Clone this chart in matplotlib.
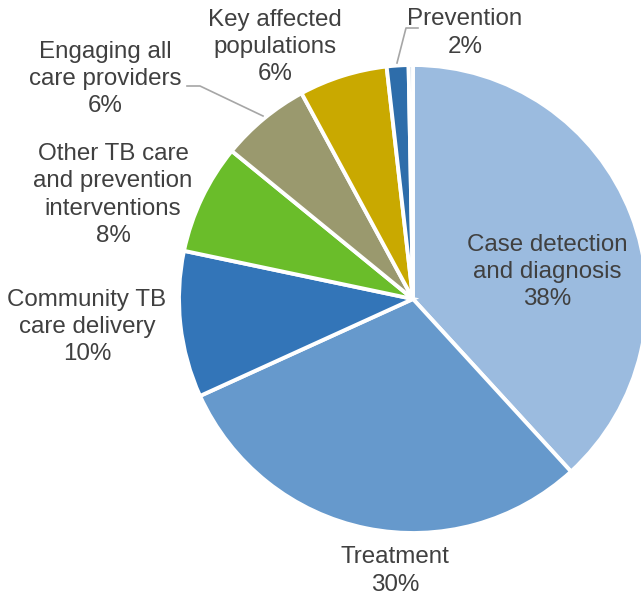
import matplotlib
matplotlib.use("Agg")
import matplotlib.pyplot as plt

categories = ["Case detection\nand diagnosis", "Treatment", "Community TB\ncare delivery",
              "Other TB care\nand prevention\ninterventions", "Engaging all\ncare providers",
              "Key affected\npopulations", "Prevention", ""]
values = [38.2, 30.0, 10.1, 7.6, 6.2, 6.1, 1.5, 0.3]
pct_labels = ["38%", "30%", "10%", "8%", "6%", "6%", "2%", ""]
colors = ["#9BBBDF", "#6699CC", "#3375B8", "#6ABD2A", "#9A996E", "#C9A900", "#2E6DAA", "#B9CCE0"]

# layout: label centres in pixel coordinates (y measured from top)
label_pos = [(547, 272), (395, 571), (87, 327), (113, 195), (105, 79), (275, 47), (465, 33), None]

W, H = 641, 599
fig = plt.figure(figsize=(W / 100, H / 100), dpi=100)
ax = fig.add_axes([0, 0, 1, 1])

cx, cy, r = 413, H - 299, 234
ax.pie(values, colors=colors, startangle=90, counterclock=False,
       center=(cx, cy), radius=r, frame=True,
       wedgeprops=dict(edgecolor="white", linewidth=2.8))
ax.set_xlim(0, W)
ax.set_ylim(0, H)
ax.set_aspect("equal")
ax.axis("off")

for cat, pct, pos in zip(categories, pct_labels, label_pos):
    if pos is None:
        continue
    ax.text(pos[0], H - pos[1], cat + "\n" + pct, ha="center", va="center",
            fontsize=17.4, color="#404040", family="Liberation Sans", linespacing=1.3)

# leader lines
ax.plot([187, 200, 263], [H - 86, H - 86, H - 116], color="#A6A6A6", lw=1.2)
ax.plot([418, 406, 397], [H - 28, H - 28, H - 63], color="#A6A6A6", lw=1.2)

fig.savefig("out.png", dpi=100)
